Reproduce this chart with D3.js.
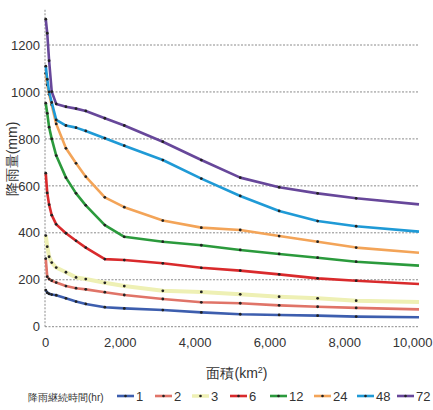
<!DOCTYPE html>
<html>
<head>
<meta charset="utf-8">
<script src="https://cdn.jsdelivr.net/npm/d3@7"></script>
<style>
  html, body { margin: 0; padding: 0; background: #fff; }
  svg { display: block; }
  text { font-family: "Liberation Sans", Arial, sans-serif; fill: #333; }
</style>
</head>
<body>
<svg id="chart" width="433" height="410"></svg>
<script>
// Catchment area (km2) at which each depth-area point is given
const areas = [20, 60, 110, 180, 300, 560, 830, 1090, 1600, 2120, 3150, 4180, 5220, 6260, 7290, 8320, 10000];

// Rainfall depth (mm) per duration
const dur1  = [156, 145, 140, 137, 134, 121, 107, 97, 83, 78, 71, 61, 53, 50, 47, 43, 40];
const dur2  = [290, 213, 203, 196, 188, 173, 164, 159, 147, 135, 118, 104, 100, 91, 85, 80, 74];
const dur3  = [388, 341, 298, 273, 252, 232, 210, 203, 187, 173, 153, 148, 138, 128, 121, 111, 105];
const dur6  = [654, 570, 520, 475, 436, 398, 366, 337, 288, 284, 270, 251, 239, 223, 206, 196, 182];
const dur12 = [952, 909, 850, 800, 729, 635, 568, 517, 433, 383, 362, 347, 327, 310, 294, 277, 260];
const dur24 = [1080, 1030, 990, 945, 864, 760, 696, 639, 551, 509, 452, 422, 412, 386, 362, 337, 315];
const dur48 = [1110, 1054, 1000, 955, 881, 857, 848, 834, 803, 771, 710, 631, 557, 493, 450, 428, 405];
const dur72 = [1310, 1250, 1133, 1001, 949, 937, 929, 919, 888, 857, 788, 710, 635, 594, 568, 547, 521];

const durations = ["1", "2", "3", "6", "12", "24", "48", "72"];
const depths = [dur1, dur2, dur3, dur6, dur12, dur24, dur48, dur72];
const colors = ["#3d5eae", "#e07468", "#eef0b4", "#d92a2c", "#2b9a3c", "#f3a458", "#1f9ad6", "#67479a"];
const widths = [2.6, 2.6, 4, 2.6, 2.6, 2.6, 2.6, 2.6];

const yTicks = [0, 200, 400, 600, 800, 1000, 1200];
const xTicks = [0, 2000, 4000, 6000, 8000, 10000];

const svg = d3.select("#chart");
const x = d3.scaleLinear().domain([0, 10000]).range([45, 419]);
const y = d3.scaleLinear().domain([0, 1200]).range([326.7, 45]);

// horizontal dashed gridlines
svg.append("g").selectAll("line").data(yTicks).join("line")
  .attr("x1", x(0)).attr("x2", x(10000))
  .attr("y1", d => y(d)).attr("y2", d => y(d))
  .attr("stroke", "#8a8a8a").attr("stroke-width", 1)
  .attr("stroke-dasharray", "2,1.5");

// dashed vertical axis line
svg.append("line")
  .attr("x1", x(0)).attr("x2", x(0))
  .attr("y1", y(1350)).attr("y2", y(0))
  .attr("stroke", "#8a8a8a").attr("stroke-width", 1)
  .attr("stroke-dasharray", "2,1.5");

// y axis labels
const yAxis = d3.axisLeft(y).tickValues(yTicks).tickSize(0).tickPadding(5)
  .tickFormat(d3.format("d"));
const gy = svg.append("g").attr("transform", `translate(${x(0)},0)`).call(yAxis);
gy.select(".domain").remove();
gy.selectAll("text").attr("font-size", 13).attr("fill", "#333")
  .attr("font-family", "Liberation Sans, Arial, sans-serif");

// x axis labels
const xAxis = d3.axisBottom(x).tickValues(xTicks).tickSize(0).tickPadding(11)
  .tickFormat(d3.format(","));
const gx = svg.append("g").attr("transform", `translate(0,${y(0)})`).call(xAxis);
gx.select(".domain").remove();
gx.selectAll("text").attr("font-size", 13).attr("fill", "#333")
  .attr("font-family", "Liberation Sans, Arial, sans-serif");
// keep the last label inside the frame
gx.selectAll(".tick").filter(d => d === 10000).select("text")
  .attr("text-anchor", "end").attr("dx", 13);

// axis titles
svg.append("text")
  .attr("transform", "translate(17,159) rotate(-90)")
  .attr("text-anchor", "middle")
  .attr("font-size", 14)
  .attr("font-family", "Noto Sans CJK JP, sans-serif")
  .text("降雨量(mm)");

const xt = svg.append("text")
  .attr("x", 237).attr("y", 378)
  .attr("text-anchor", "middle")
  .attr("font-size", 14)
  .attr("font-family", "Noto Sans CJK JP, sans-serif");
xt.append("tspan").text("面積(km");
xt.append("tspan").attr("font-size", 9).attr("dy", -5).text("2");
xt.append("tspan").attr("dy", 5).text(")");

// series
const line = d3.line()
  .x((d, i) => x(areas[i]))
  .y(d => y(d));

const series = svg.append("g");
depths.forEach((vals, k) => {
  const g = series.append("g");
  g.append("path")
    .datum(vals)
    .attr("d", line)
    .attr("fill", "none")
    .attr("stroke", colors[k])
    .attr("stroke-width", widths[k])
    .attr("stroke-linejoin", "round");
  g.selectAll("circle").data(vals.slice(0, -1)).join("circle")
    .attr("cx", (d, i) => x(areas[i]))
    .attr("cy", d => y(d))
    .attr("r", 1.4)
    .attr("fill", "#222");
});

// legend
const legend = svg.append("g");
legend.append("text")
  .attr("x", 28).attr("y", 401)
  .attr("font-size", 10)
  .attr("font-family", "Noto Sans CJK JP, sans-serif")
  .text("降雨継続時間(hr)");

const legendX = [117, 155, 192, 230, 270, 314, 357, 397];
durations.forEach((name, k) => {
  const lx = legendX[k];
  legend.append("line")
    .attr("x1", lx).attr("x2", lx + 17)
    .attr("y1", 396).attr("y2", 396)
    .attr("stroke", colors[k]).attr("stroke-width", k === 2 ? 3.5 : 2.6);
  legend.append("circle")
    .attr("cx", lx + 8.5).attr("cy", 396).attr("r", 1.3).attr("fill", "#222");
  legend.append("text")
    .attr("x", lx + 19).attr("y", 401)
    .attr("font-size", 13)
    .attr("font-family", "DejaVu Sans Condensed, Liberation Sans Narrow, sans-serif")
    .attr("fill", "#333")
    .text(name);
});
</script>
</body>
</html>
